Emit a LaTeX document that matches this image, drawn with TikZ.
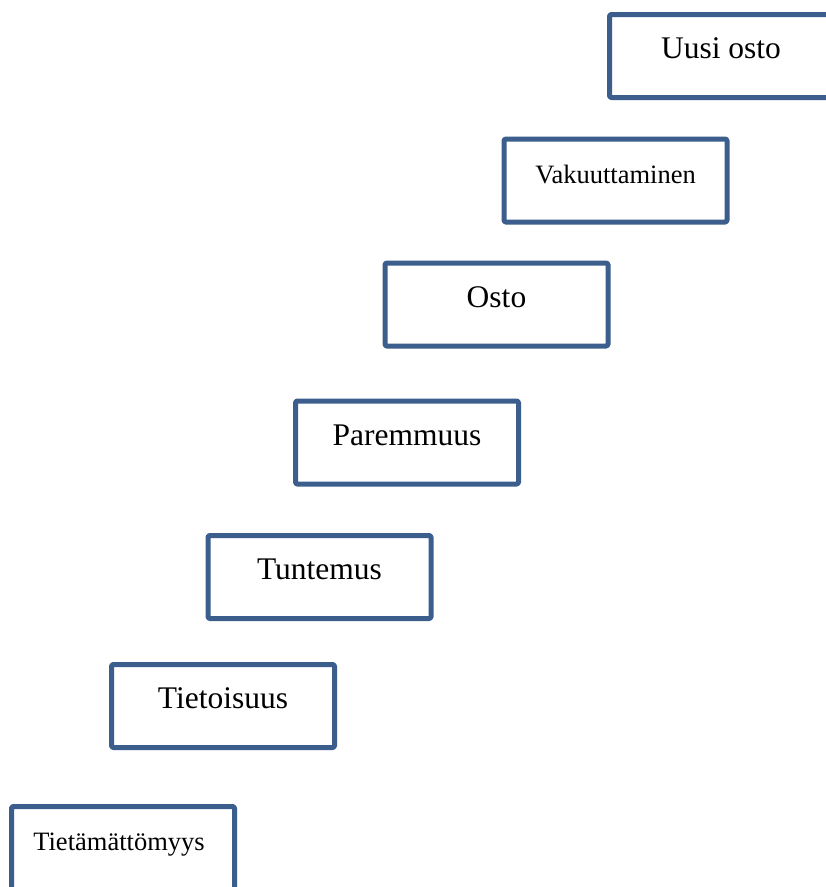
\documentclass[tikz,border=0pt]{standalone}
\usepackage{fontspec}
\setmainfont{Liberation Serif}
\definecolor{stageblue}{RGB}{59,94,140}
\tikzset{
  stagebox/.style={draw=stageblue, line width=5pt, line join=round,
    rectangle, rounded corners=1.5pt, fill=white, inner sep=0pt, outer sep=0pt,
    minimum width=223pt, minimum height=83pt, anchor=north west,
    text height=10pt, text depth=5pt, align=center},
  bigtext/.style={font=\fontsize{31.5}{37}\selectfont},
  smalltext/.style={font=\fontsize{26.5}{31}\selectfont},
}
\begin{document}
\begin{tikzpicture}[x=1pt, y=-1pt]
  \useasboundingbox (0,0) rectangle (826,887);
  \fill[white] (0,0) rectangle (826,887);
  % the stairway of stages, bottom to top
  \node[stagebox, smalltext] (ignorance)  at (11.5,806.5) {Tietämättömyys\hspace{8pt}};
  \node[stagebox, bigtext]   (awareness)  at (111.5,664.5) {Tietoisuus};
  \node[stagebox, bigtext]   (knowledge)  at (208,535.5)  {Tuntemus};
  \node[stagebox, bigtext]   (preference) at (295.5,401)  {Paremmuus};
  \node[stagebox, bigtext]   (purchase)   at (385,263)    {Osto};
  \node[stagebox, smalltext] (conviction) at (504,139)    {Vakuuttaminen};
  \node[stagebox, bigtext]   (repeat)     at (609.5,14.5) {Uusi osto};
\end{tikzpicture}
\end{document}
